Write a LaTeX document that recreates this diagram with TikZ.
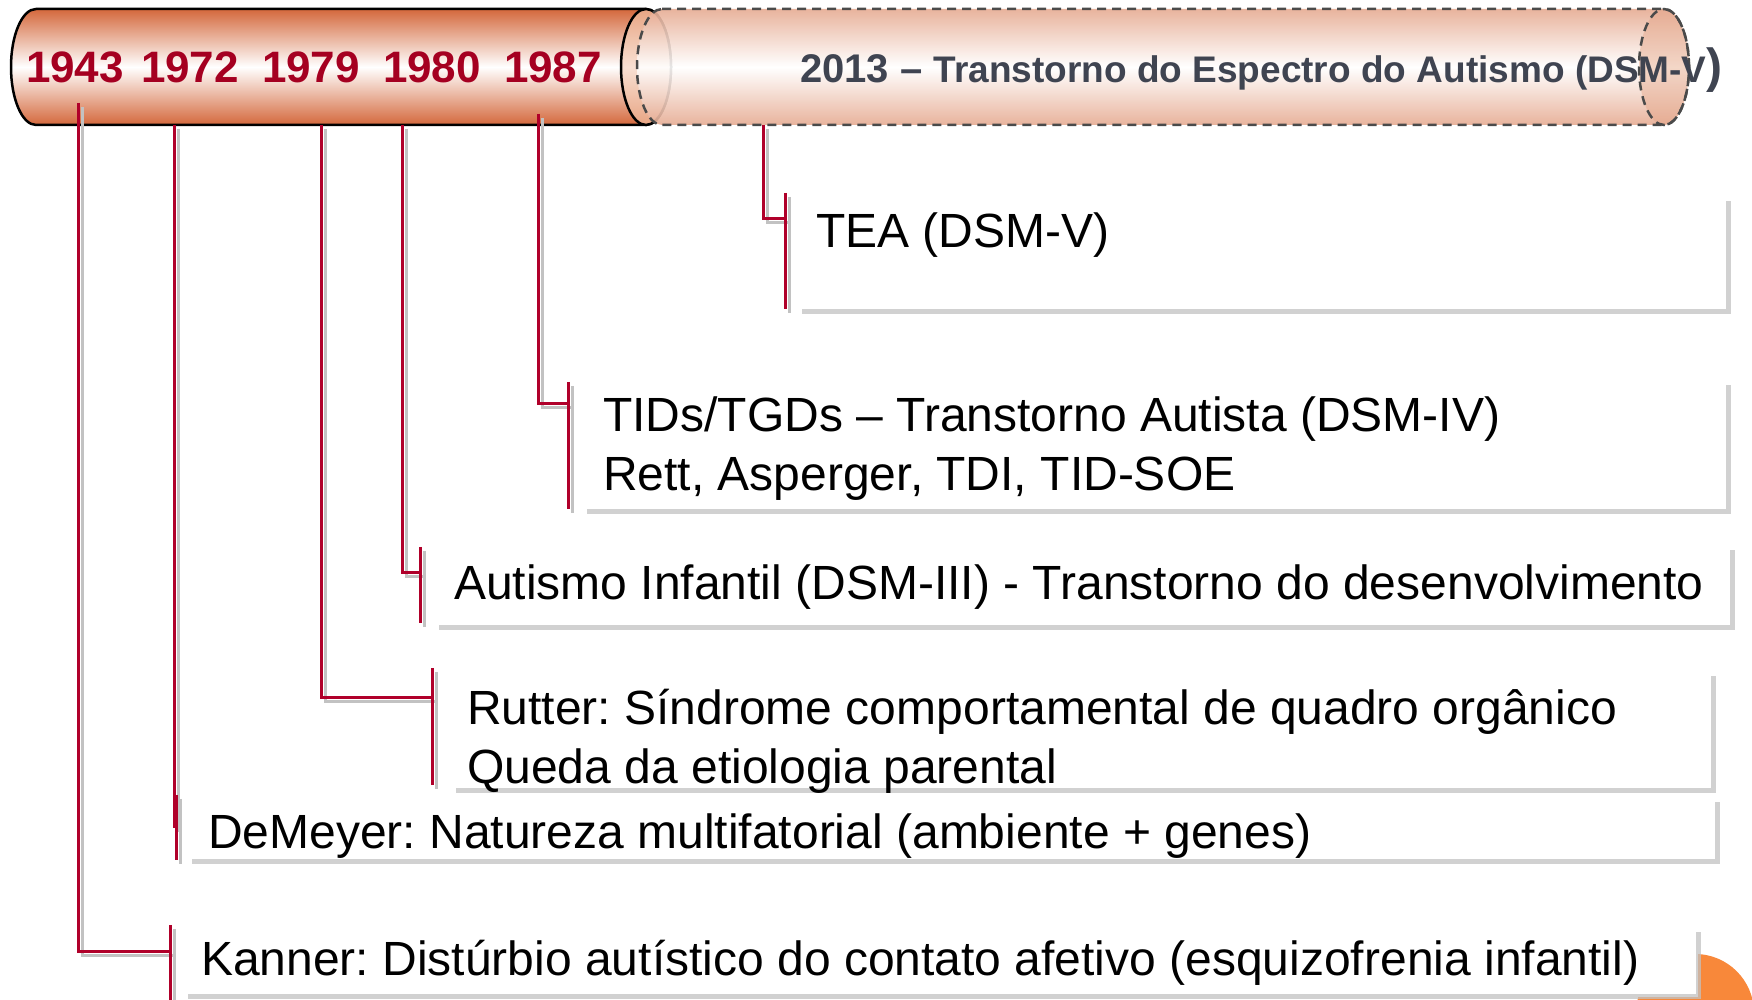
\documentclass[tikz,border=0pt]{standalone}
\usepackage{fontspec}
\setmainfont{Liberation Sans}
\usetikzlibrary{calc}
\definecolor{yearred}{HTML}{A50021}
\definecolor{linered}{HTML}{B0002A}
\definecolor{shgray}{HTML}{C2C2C2}
\definecolor{cylor}{HTML}{D4683C}
\definecolor{capor}{HTML}{E8A583}
\definecolor{caplt}{HTML}{F8E0D3}
\definecolor{dashor}{HTML}{E6AB92}
\definecolor{dashcap}{HTML}{F2D3C2}
\definecolor{dashline}{HTML}{4A4A4A}
\definecolor{slate}{HTML}{3F4451}
\definecolor{blob}{HTML}{F8883A}
\frenchspacing
\newcommand{\tlconn}[4]{%
  \draw[connsh] (#1) |- (#2);
  \draw[connsh] (#3) -- (#4);
  \draw[connred] (#1) |- (#2);
  \draw[connred] (#3) -- (#4);
}
\begin{document}
\begin{tikzpicture}[x=1pt,y=1pt,
  connred/.style={draw=linered,line width=3pt},
  connsh/.style={draw=shgray,line width=3pt,transform canvas={xshift=4pt,yshift=-4pt}},
  boxsh/.style={draw=shgray,line width=5pt,draw opacity=0.75},
  bodytext/.style={anchor=west,inner sep=0pt,font=\fontsize{48}{59}\selectfont,align=left},
  yeartext/.style={anchor=base,inner sep=0pt,font=\fontsize{44}{50}\selectfont\bfseries,text=yearred}]
\useasboundingbox (0,0) rectangle (1752,1000);
\begin{scope}
\clip (0,0) rectangle (1752,1000);
\fill[blob] (1695,-13) circle[radius=59];
\end{scope}
% solid cylinder
\path[top color=cylor,bottom color=cylor,middle color=white]
  (36,991) -- (646,991) arc[start angle=90,end angle=-90,x radius=25,y radius=58]
  -- (36,875) arc[start angle=270,end angle=90,x radius=25,y radius=58] -- cycle;
\draw[line width=2.5pt]
  (36,991) -- (646,991) arc[start angle=90,end angle=-90,x radius=25,y radius=58]
  -- (36,875) arc[start angle=270,end angle=90,x radius=25,y radius=58] -- cycle;
\path[top color=capor,bottom color=capor,middle color=caplt] (646,933) ellipse[x radius=25,y radius=58];
\draw[line width=2.5pt] (646,933) ellipse[x radius=25,y radius=58];
% dashed cylinder
\path[top color=dashor,bottom color=dashor,middle color=white,opacity=0.9]
  (662,991) -- (1664,991) arc[start angle=90,end angle=-90,x radius=25,y radius=58]
  -- (662,875) arc[start angle=270,end angle=90,x radius=25,y radius=58] -- cycle;
\path[top color=dashor,bottom color=dashor,middle color=dashcap,opacity=0.9] (1664,933) ellipse[x radius=25,y radius=58];
\draw[dashline,line width=2.5pt,dash pattern=on 9pt off 6pt]
  (662,991) -- (1664,991) arc[start angle=90,end angle=-90,x radius=25,y radius=58]
  -- (662,875) arc[start angle=270,end angle=90,x radius=25,y radius=58] -- cycle;
\draw[dashline,line width=2.5pt,dash pattern=on 9pt off 6pt] (1664,933) ellipse[x radius=25,y radius=58];
% years
\node[yeartext] (t1943) at (75,917) {1943};
\node[yeartext] (t1972) at (190,917) {1972};
\node[yeartext] (t1979) at (311,917) {1979};
\node[yeartext] (t1980) at (432,917) {1980};
\node[yeartext] (t1987) at (553,917) {1987};
\node[anchor=base west,inner sep=0pt,text=slate,font=\bfseries] (t2013) at (800,917)
  {\fontsize{40}{44}\selectfont 2013 -- \fontsize{37}{40}\selectfont Transtorno do Espectro do Autismo (DSM-V\fontsize{48}{48}\selectfont)};
% boxes
\fill[white] (188,3) rectangle (1698,80);
\draw[boxsh] (802,688) -- (1728,688) -- (1728,799);
\draw[boxsh] (587,488) -- (1728,488) -- (1728,615);
\draw[boxsh] (439,372) -- (1732,372) -- (1732,450);
\draw[boxsh] (456,209) -- (1713,209) -- (1713,324);
\draw[boxsh] (192,138) -- (1717,138) -- (1717,198);
\draw[boxsh] (188,3) -- (1698,3) -- (1698,68);
% texts
\node[bodytext] (tea) at (816,765) {TEA (DSM-V)};
\node[bodytext] (tid) at (603,551) {TIDs/TGDs -- Transtorno Autista (DSM-IV)\\Rett, Asperger, TDI, TID-SOE};
\node[bodytext] (aut) at (454,413) {Autismo Infantil (DSM-III) - Transtorno do desenvolvimento};
\node[bodytext] (rut) at (467,259) {Rutter: Síndrome comportamental de quadro orgânico\\Queda da etiologia parental};
\node[bodytext] (dem) at (208,164) {DeMeyer: Natureza multifatorial (ambiente + genes)};
\node[bodytext] (kan) at (201,37) {Kanner: Distúrbio autístico do contato afetivo (esquizofrenia infantil)};
% connector points
\coordinate (y43) at (78,897);  \coordinate (j43) at (170,48);  \coordinate (s43) at (170,75);  \coordinate (e43) at (170,0);
\coordinate (y72) at (174,875); \coordinate (j72) at (176,173); \coordinate (s72) at (176,205); \coordinate (e72) at (176,140);
\coordinate (y79) at (321,875); \coordinate (j79) at (432,302); \coordinate (s79) at (432,332); \coordinate (e79) at (432,215);
\coordinate (y80) at (402,875); \coordinate (j80) at (420,427); \coordinate (s80) at (420,453); \coordinate (e80) at (420,377);
\coordinate (y87) at (538,886); \coordinate (j87) at (568,596); \coordinate (s87) at (568,618); \coordinate (e87) at (568,491);
\coordinate (y13) at (763,875); \coordinate (j13) at (785,781); \coordinate (s13) at (785,807); \coordinate (e13) at (785,691);
\tlconn{y43}{j43}{s43}{e43}
\tlconn{y72}{j72}{s72}{e72}
\tlconn{y79}{j79}{s79}{e79}
\tlconn{y80}{j80}{s80}{e80}
\tlconn{y87}{j87}{s87}{e87}
\tlconn{y13}{j13}{s13}{e13}
\end{tikzpicture}
\end{document}
